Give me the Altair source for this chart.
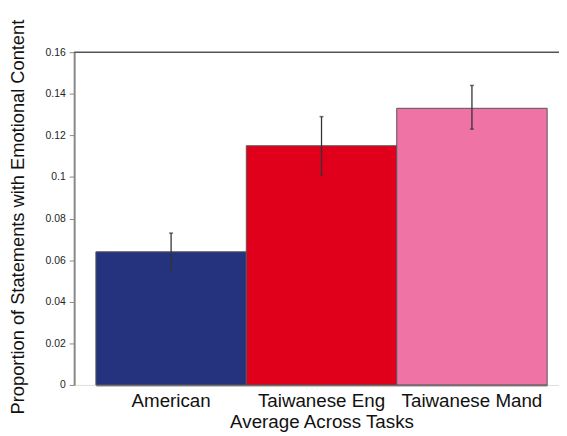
import altair as alt
import pandas as pd

groups = ["American", "Taiwanese Eng", "Taiwanese Mand"]
means = [0.064, 0.115, 0.133]
err_low = [0.056, 0.101, 0.123]
err_high = [0.073, 0.129, 0.144]
colors = ["#25337f", "#e0001b", "#ef73a5"]
y_ticks = [0, 0.02, 0.04, 0.06, 0.08, 0.1, 0.12, 0.14, 0.16]

df = pd.DataFrame({"group": groups, "mean": means, "lo": err_low, "hi": err_high})

W, H = 491, 337
FONT = "Liberation Sans"

xscale = alt.Scale(domain=groups, range=[22, 479], paddingInner=0, paddingOuter=0)
yscale = alt.Scale(domain=[0, 0.16], nice=False)

base = alt.Chart(df)

bars = base.mark_bar(stroke="#555555", strokeWidth=1).encode(
    x=alt.X("group:N", scale=xscale, sort=groups,
            axis=alt.Axis(title="Average Across Tasks", labelAngle=0, labelFontSize=19,
                          labelFont=FONT, labelColor="#111", titleFont=FONT,
                          titleFontSize=19, titleFontWeight="normal", titleColor="#111",
                          ticks=False, domainColor="#888", domainWidth=2,
                          labelPadding=7, titlePadding=2)),
    y=alt.Y("mean:Q", scale=yscale,
            axis=alt.Axis(title="Proportion of Statements with Emotional Content",
                          values=y_ticks, format="~g", labelFontSize=10.5, labelFont=FONT,
                          labelColor="#222", tickColor="#888", tickSize=5,
                          domainColor="#888", domainWidth=2, grid=False,
                          titleFont=FONT, titleFontSize=18.5, titleFontWeight="normal",
                          titleColor="#111", titleX=-57, titleY=H / 2 - 2,
                          titleBaseline="middle", titleAngle=270, labelPadding=4)),
    color=alt.Color("group:N", scale=alt.Scale(domain=groups, range=colors), legend=None),
)

err = base.mark_rule(color="#333333", strokeWidth=1.3).encode(
    x=alt.X("group:N", scale=xscale, sort=groups),
    y=alt.Y("lo:Q", scale=yscale),
    y2="hi:Q",
)

caps_hi = base.mark_tick(color="#333333", size=4, thickness=1.5, orient="horizontal").encode(
    x=alt.X("group:N", scale=xscale, sort=groups),
    y=alt.Y("hi:Q", scale=yscale),
)
caps_lo = base.mark_tick(color="#333333", size=4, thickness=1.5, orient="horizontal").encode(
    x=alt.X("group:N", scale=xscale, sort=groups),
    y=alt.Y("lo:Q", scale=yscale),
)

top = alt.Chart(pd.DataFrame({"v": [0.16]})).mark_rule(color="#555555", strokeWidth=1.5).encode(
    y=alt.Y("v:Q", scale=yscale)
)

chart = alt.layer(bars, err, caps_hi, caps_lo, top).properties(
    width=W, height=H,
    autosize=alt.AutoSizeParams(type="none"),
    padding={"left": 67, "top": 42, "right": 0, "bottom": 49},
).configure_view(stroke=None).configure(background="white")

chart.save("out.html", embed_options={"renderer": "svg", "actions": False})
